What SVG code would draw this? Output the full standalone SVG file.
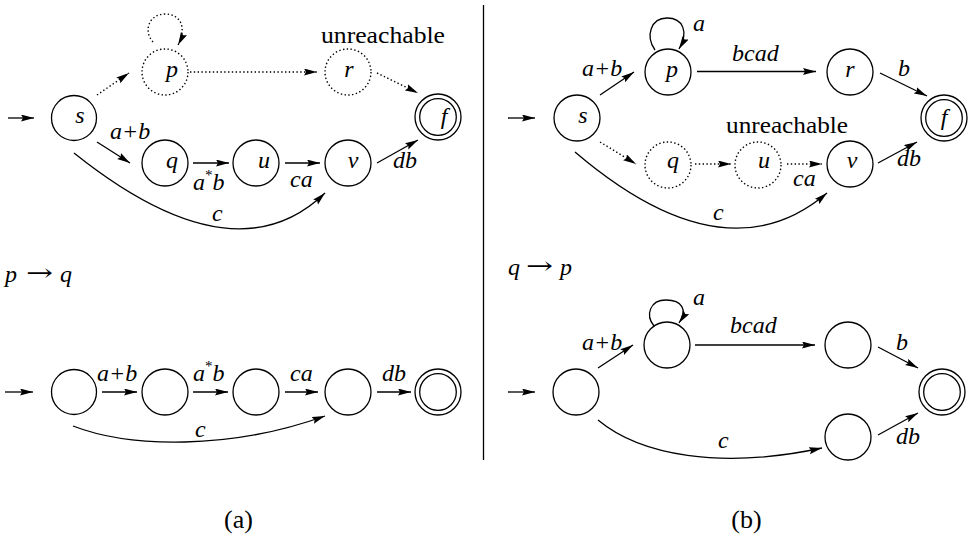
<svg xmlns="http://www.w3.org/2000/svg" width="970" height="541" viewBox="0 0 970 541">
<style>
.n{fill:none;stroke:#000;stroke-width:1.3}
.d{fill:none;stroke:#000;stroke-width:1.4;stroke-dasharray:1.4 2.4}
.e{fill:none;stroke:#000;stroke-width:1.3;marker-end:url(#ah)}
.ed{fill:none;stroke:#000;stroke-width:1.4;stroke-dasharray:1.4 2.4;marker-end:url(#ah)}
text{font-family:'Liberation Serif','Times New Roman','DejaVu Serif',serif;font-size:24px;fill:#000}
.m{font-style:italic}
.ml{font-style:italic;text-anchor:middle}
.sup{font-size:15px;font-style:normal}
.cap{font-size:26px;text-anchor:middle}
.arr{font-family:'DejaVu Serif',serif;font-size:24px}
</style>
<defs>
<marker id="ah" markerUnits="userSpaceOnUse" markerWidth="14" markerHeight="8" refX="13" refY="3.5" orient="auto">
<path d="M0,0 L13,3.5 L0,7 L2,3.5 z" fill="#000"/>
</marker>
</defs>
<rect width="970" height="541" fill="#fff"/>
<line x1="483.5" y1="5" x2="483.5" y2="460" stroke="#000" stroke-width="1.3"/>

<!-- Panel (a) top -->
<g id="a-s"><circle class="n" cx="74" cy="118" r="22.5"/><text class="ml" x="80" y="123">s</text></g>
<g id="a-p"><circle class="d" cx="165" cy="72" r="23"/><text class="ml" x="172" y="77">p</text></g>
<g id="a-r"><circle class="d" cx="348" cy="72" r="23"/><text class="ml" x="349" y="77">r</text></g>
<g id="a-f"><circle class="n" cx="438" cy="117" r="23"/><circle class="n" cx="438" cy="117" r="18.3"/><text class="ml" x="444" y="124">f</text></g>
<g id="a-q"><circle class="n" cx="165" cy="163" r="23"/><text class="ml" x="172" y="168">q</text></g>
<g id="a-u"><circle class="n" cx="256" cy="163" r="23"/><text class="ml" x="264" y="168">u</text></g>
<g id="a-v"><circle class="n" cx="348" cy="163" r="23"/><text class="ml" x="353" y="168">v</text></g>
<text x="321" y="43" textLength="124" lengthAdjust="spacingAndGlyphs">unreachable</text>

<g id="a-edges">
<path class="e" d="M8,118 L34,118"/>
<path class="ed" d="M153,42 C143,31 149,14 165,14 C181,14 187,28 178,45"/>
<path class="ed" d="M97,95 L129,73"/>
<path class="ed" d="M190,72 L317,72"/>
<path class="ed" d="M377,73 L418,93"/>
<path class="e" d="M97,142 L130,163"/>
<path class="e" d="M193,163 L229,163"/>
<path class="e" d="M285,163 L320,163"/>
<path class="e" d="M377,163 L418,140"/>
<path class="e" d="M74,153 Q234,281 325,193"/>
<text class="m" x="110" y="139">a+b</text>
<text class="m" x="193" y="190">a<tspan class="sup" dy="-10">*</tspan><tspan dy="10">b</tspan></text>
<text class="m" x="290" y="187">ca</text>
<text class="m" x="393" y="168">db</text>
<text class="m" x="212" y="221">c</text>
</g>

<!-- Panel (a) bottom -->
<text class="m" x="5" y="282">p</text>
<text class="arr" x="26" y="281" textLength="27" lengthAdjust="spacingAndGlyphs">→</text>
<text class="m" x="60" y="282">q</text>
<g id="a2-0"><circle class="n" cx="74" cy="392" r="22.5"/></g>
<g id="a2-1"><circle class="n" cx="165" cy="392" r="23"/></g>
<g id="a2-2"><circle class="n" cx="256" cy="392" r="23"/></g>
<g id="a2-3"><circle class="n" cx="348" cy="392" r="23"/></g>
<g id="a2-f"><circle class="n" cx="438" cy="392" r="23"/><circle class="n" cx="438" cy="392" r="18.3"/></g>
<g id="a2-edges">
<path class="e" d="M5,392 L33,392"/>
<path class="e" d="M102,392 L137,392"/>
<path class="e" d="M193,392 L228,392"/>
<path class="e" d="M285,392 L318,392"/>
<path class="e" d="M377,392 L411,392"/>
<path class="e" d="M73,426 C130,448 230,450 325,416"/>
<text class="m" x="97" y="381">a+b</text>
<text class="m" x="193" y="381">a<tspan class="sup" dy="-10">*</tspan><tspan dy="10">b</tspan></text>
<text class="m" x="290" y="381">ca</text>
<text class="m" x="382" y="381">db</text>
<text class="m" x="195" y="437">c</text>
</g>

<!-- Panel (b) top -->
<g id="b-s"><circle class="n" cx="577" cy="118" r="23"/><text class="ml" x="583" y="123">s</text></g>
<g id="b-p"><circle class="n" cx="668" cy="72" r="23"/><text class="ml" x="672" y="77">p</text></g>
<g id="b-r"><circle class="n" cx="850" cy="72" r="23"/><text class="ml" x="850" y="77">r</text></g>
<g id="b-f"><circle class="n" cx="944" cy="118" r="23"/><circle class="n" cx="944" cy="118" r="18.3"/><text class="ml" x="944" y="125">f</text></g>
<g id="b-q"><circle class="d" cx="668" cy="165" r="23"/><text class="ml" x="673" y="168">q</text></g>
<g id="b-u"><circle class="d" cx="758" cy="165" r="23"/><text class="ml" x="764" y="168">u</text></g>
<g id="b-v"><circle class="n" cx="850" cy="164" r="23"/><text class="ml" x="852" y="168">v</text></g>
<text x="726" y="133" textLength="122" lengthAdjust="spacingAndGlyphs">unreachable</text>
<g id="b-edges">
<path class="e" d="M508,118 L535,118"/>
<path class="e" d="M655,50 C645,36 651,18 667,18 C683,18 689,32 679,49"/>
<path class="e" d="M600,95 L634,72"/>
<path class="e" d="M697,71.5 L816,71.5"/>
<path class="e" d="M880,73 L927,96"/>
<path class="ed" d="M600,142 L636,164"/>
<path class="ed" d="M695,164 L731,164"/>
<path class="ed" d="M787,164 L822,164"/>
<path class="e" d="M878,163 L917,142"/>
<path class="e" d="M575,152 Q725,280 827,193"/>
<text class="m" x="582" y="76">a+b</text>
<text class="m" x="732" y="61">bcad</text>
<text class="m" x="693" y="31">a</text>
<text class="m" x="898" y="76">b</text>
<text class="m" x="793" y="186">ca</text>
<text class="m" x="897" y="166">db</text>
<text class="m" x="713" y="220">c</text>
</g>

<!-- Panel (b) bottom -->
<text class="m" x="508" y="275">q</text>
<text class="arr" x="526" y="274" textLength="27" lengthAdjust="spacingAndGlyphs">→</text>
<text class="m" x="560" y="275">p</text>
<g id="b2-s"><circle class="n" cx="576" cy="392" r="23"/></g>
<g id="b2-p"><circle class="n" cx="667" cy="345" r="23"/></g>
<g id="b2-r"><circle class="n" cx="848" cy="345" r="23"/></g>
<g id="b2-f"><circle class="n" cx="942" cy="392" r="23"/><circle class="n" cx="942" cy="392" r="18.3"/></g>
<g id="b2-v"><circle class="n" cx="848" cy="437" r="23"/></g>
<g id="b2-edges">
<path class="e" d="M508,392 L535,392"/>
<path class="e" d="M654,326 C645,315 650,300 666,300 C682,300 688,310 679,323"/>
<path class="e" d="M598,368 L633,345"/>
<path class="e" d="M695,345 L815,345"/>
<path class="e" d="M878,347 L918,368"/>
<path class="e" d="M878,435 L918,413"/>
<path class="e" d="M598,420 C640,455 720,470 822,448"/>
<text class="m" x="582" y="350">a+b</text>
<text class="m" x="730" y="333">bcad</text>
<text class="m" x="693" y="305">a</text>
<text class="m" x="896" y="350">b</text>
<text class="m" x="896" y="444">db</text>
<text class="m" x="718" y="448">c</text>
</g>

<text class="cap" x="238.5" y="528">(a)</text>
<text class="cap" x="746.5" y="528">(b)</text>
</svg>
